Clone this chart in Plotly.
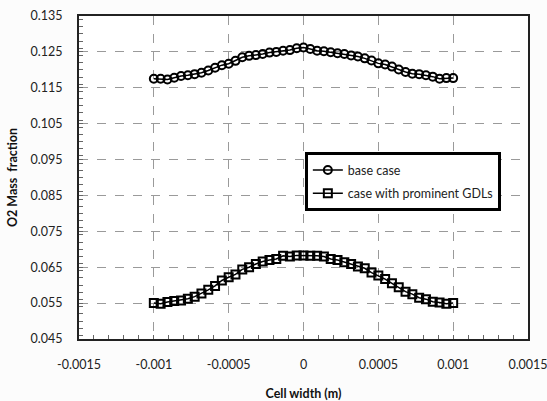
import numpy as np
import plotly.graph_objects as go

# ---- data ----
n_points = 45
cell_width = np.linspace(-0.001, 0.001, n_points)

base_case = [0.1175, 0.1175, 0.1173, 0.1178, 0.1183, 0.1185, 0.1188, 0.1192, 0.1198,
             0.1206, 0.1213, 0.1217, 0.1225, 0.1235, 0.1239, 0.1241, 0.1244, 0.1248,
             0.1250, 0.1253, 0.1255, 0.1260, 0.1262,
             0.1258, 0.1253, 0.1252, 0.1249, 0.1246, 0.1244, 0.1240, 0.1237, 0.1232,
             0.1226, 0.1218, 0.1215, 0.1209, 0.1201, 0.1194, 0.1189, 0.1188, 0.1185,
             0.1181, 0.1175, 0.1177, 0.1177]

gdl_case = [0.0550, 0.0548, 0.0553, 0.0556, 0.0557, 0.0562, 0.0568, 0.0577, 0.0587,
            0.0598, 0.0613, 0.0622, 0.0630, 0.0644, 0.0650, 0.0659, 0.0666, 0.0670,
            0.0673, 0.0682, 0.0680, 0.0683, 0.0683,
            0.0682, 0.0682, 0.0680, 0.0673, 0.0670, 0.0664, 0.0659, 0.0652, 0.0647,
            0.0635, 0.0627, 0.0617, 0.0605, 0.0594, 0.0582, 0.0575, 0.0565, 0.0561,
            0.0554, 0.0552, 0.0548, 0.0550]

x_tick_vals = [-0.0015, -0.001, -0.0005, 0, 0.0005, 0.001, 0.0015]
x_tick_labels = ["-0.0015", "-0.001", "-0.0005", "0", "0.0005", "0.001", "0.0015"]
y_tick_vals = [0.045, 0.055, 0.065, 0.075, 0.085, 0.095, 0.105, 0.115, 0.125, 0.135]
y_tick_labels = ["0.045", "0.055", "0.065", "0.075", "0.085", "0.095", "0.105", "0.115", "0.125", "0.135"]

series_names = ["base case", "case with prominent GDLs"]

FONT = "Lato"

fig = go.Figure()
fig.add_trace(go.Scatter(
    x=cell_width, y=base_case, name=series_names[0], mode="lines+markers",
    legendgroup="a",
    line=dict(color="black", width=1.5),
    marker=dict(symbol="circle-open", size=8, color="black", line=dict(width=2, color="black")),
))
fig.add_trace(go.Scatter(
    x=cell_width, y=gdl_case, name=series_names[1], mode="lines+markers",
    legendgroup="b",
    line=dict(color="black", width=1.5),
    marker=dict(symbol="square-open", size=8, color="black", line=dict(width=2, color="black")),
))

axis_common = dict(
    automargin=False,
    showline=True, linecolor="#222", linewidth=2, mirror=True,
    showgrid=True, gridcolor="#9a9a9a", gridwidth=1, griddash="dash",
    zeroline=False, ticks="inside", ticklen=4, tickcolor="#666", tickwidth=1,
    ticklabeloverflow="allow",
    tickfont=dict(family=FONT, size=12.5, color="#222"),
)

fig.update_xaxes(
    range=[-0.0015, 0.0015], tickmode="array", tickvals=x_tick_vals, ticktext=x_tick_labels,
    ticklabelstandoff=13,
    minor=dict(dtick=0.0001, ticks="inside", ticklen=4, tickcolor="#666", showgrid=False),
    title=dict(text="<b>Cell width (m)</b>", font=dict(family=FONT, size=12.5, color="#111"), standoff=20),
    **axis_common,
)
fig.update_yaxes(
    range=[0.045, 0.135], tickmode="array", tickvals=y_tick_vals, ticktext=y_tick_labels,
    ticklabelstandoff=12,
    minor=dict(dtick=0.002, ticks="inside", ticklen=4, tickcolor="#666", showgrid=False),
    title=dict(text="<b>O2 Mass  fraction</b>", font=dict(family=FONT, size=12.5, color="#111"), standoff=10),
    **axis_common,
)

# legend shadow
fig.add_shape(type="rect", xref="paper", yref="paper",
              x0=0.512, x1=0.938, y0=0.418, y1=0.566,
              fillcolor="#555", line=dict(width=0), layer="below")

fig.update_layout(
    width=547, height=401,
    margin=dict(l=79, r=19, t=16, b=62),
    paper_bgcolor="#fcfcfc", plot_bgcolor="white",
    font=dict(family=FONT, size=12.5, color="#222"),
    legend=dict(
        x=0.503, y=0.578, xanchor="left", yanchor="top",
        bgcolor="white", bordercolor="black", borderwidth=3,
        font=dict(family=FONT, size=12.5, color="#222"),
        traceorder="grouped", tracegroupgap=4, itemwidth=30,
    ),
    showlegend=True,
)

fig.write_html("out.html", config={"displayModeBar": False},
               post_script="document.body.style.margin='0';document.body.style.overflow='hidden';")
